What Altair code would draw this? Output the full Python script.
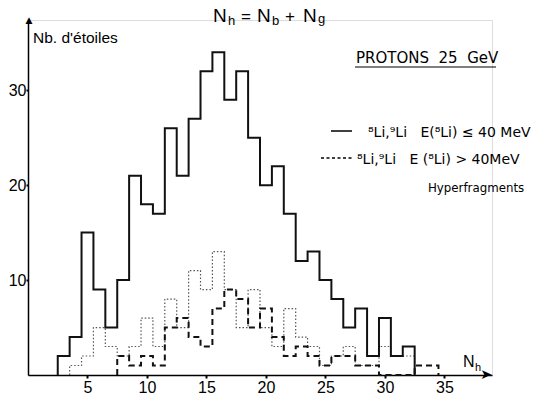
import altair as alt
import pandas as pd

# Star counts per N_h bin (bins are one unit wide, centred on integers)
solid_first = 3
solid_counts = [2, 4, 15, 9, 5, 10, 21, 18, 17, 26, 21, 27, 32, 34, 29, 32, 25,
                20, 22, 17, 12, 13, 10, 8, 5, 7, 2, 6, 2, 3]

dashed_first = 8
dashed_counts = [2, 1, 2, 1, 5, 6, 4, 3, 7, 9, 8, 5, 7, 4, 2, 3, 2, 1, 2, 2,
                 1, 1, 0, 0, 0, 1, 1]

dotted_first = 4
dotted_counts = [1, 2, 5, 3, 2, 3, 6, 3, 8, 5, 11, 9, 13, 9, 5, 9, 5, 3, 7, 4,
                 3, 1, 2, 3, 1, 1, 3, 2, 2]

x_ticks = [5, 10, 15, 20, 25, 30, 35]
y_ticks = [10, 20, 30]

FONT = "Liberation Sans"
FONT2 = "DejaVu Sans"
NB = "\u00a0"
W, H = 464, 355
LEFT, TOP = 28, 20


def step_outline(first_center, counts):
    """Histogram outline as points for a step-after line, closed to 0 at both ends."""
    left = first_center - 0.5
    xs = [left] + [left + i for i in range(len(counts))] + [left + len(counts)]
    ys = [0] + list(counts) + [0]
    return pd.DataFrame({"x": xs, "y": ys, "i": range(len(xs))})


x_scale = alt.Scale(domain=[0, 39], nice=False, zero=False)
y_scale = alt.Scale(domain=[0, 37.4], nice=False)

x_axis = alt.Axis(values=x_ticks, title=None, grid=False, domainColor="black",
                  domainWidth=1.5, tickColor="black", tickWidth=2, tickSize=3,
                  labelFont=FONT, labelFontSize=16, labelColor="black",
                  labelPadding=1, labelFlush=False)
y_axis = alt.Axis(values=y_ticks, title=None, grid=False, domainColor="black",
                  domainWidth=1.5, tickColor="black", tickWidth=2, tickSize=2,
                  labelFont=FONT, labelFontSize=16, labelColor="black",
                  labelPadding=0, labelFlush=False)


def hist_line(df, **style):
    return alt.Chart(df).mark_line(interpolate="step-after", **style).encode(
        x=alt.X("x:Q", scale=x_scale, axis=x_axis),
        y=alt.Y("y:Q", scale=y_scale, axis=y_axis),
        order="i:Q",
    )


dotted = hist_line(step_outline(dotted_first, dotted_counts),
                   color="#555555", strokeWidth=1.2, strokeDash=[1.5, 2])
dashed = hist_line(step_outline(dashed_first, dashed_counts),
                   color="#111111", strokeWidth=2, strokeDash=[6, 4])
solid = hist_line(step_outline(solid_first, solid_counts),
                  color="#111111", strokeWidth=2)

one = alt.Data(values=[{}])


def label(text, x, y, size, align="left", font=FONT, baseline="alphabetic"):
    return alt.Chart(one).mark_text(
        text=text, font=font, fontSize=size, align=align, baseline=baseline,
        color="black",
    ).encode(x=alt.value(x - LEFT), y=alt.value(y - TOP))


def rule(x1, x2, y1, y2, width=1.5, dash=None):
    kw = {"strokeDash": dash} if dash else {}
    return alt.Chart(one).mark_rule(color="black", strokeWidth=width, **kw).encode(
        x=alt.value(x1 - LEFT), x2=alt.value(x2 - LEFT),
        y=alt.value(y1 - TOP), y2=alt.value(y2 - TOP),
    )


decor = [
    # axis arrowheads
    label("➤", 492, 375, 14, align="right", font=FONT2, baseline="middle"),
    label("▲", 29, 16, 9, align="center", font=FONT2, baseline="top"),
    # axis titles
    label("Nb. d'étoiles", 33, 43, 15.5),
    label("N", 463, 367, 16),
    label("h", 475, 371, 11),
    # title N_h = N_b + N_g
    label("N", 213, 22, 19),
    label("h", 228, 25, 13),
    label("=", 246, 22, 17, align="center"),
    label("N", 257, 22, 19),
    label("b", 272, 25, 13),
    label("+", 290, 22, 17, align="center"),
    label("N", 303, 22, 19),
    label("g", 318, 23, 13),
    # legend block
    label(f"PROTONS{NB}{NB}25{NB}{NB}GeV", 356, 63, 15, font=FONT2),
    rule(355, 496, 67, 67, width=1.2),
    rule(331, 352, 131, 131, width=1.5),
    label(f"⁸Li,⁹Li{NB}{NB}{NB}E(⁸Li){NB}≤{NB}40{NB}MeV", 368, 137, 14, font=FONT2),
    rule(321, 352, 158, 158, width=1.5, dash=[3, 2.5]),
    label(f"⁸Li,⁹Li{NB}{NB}{NB}E{NB}(⁸Li){NB}>{NB}40MeV", 357, 164, 14, font=FONT2),
    label("Hyperfragments", 428, 192, 11.8, font=FONT2),
]

chart = alt.layer(dotted, dashed, solid, *decor).properties(
    width=W, height=H, autosize="none",
    padding={"left": LEFT, "top": TOP, "right": 537 - LEFT - W, "bottom": 399 - TOP - H},
).configure_view(stroke=None).configure(background="white")

chart.save("out.html", embed_options={"renderer": "svg", "actions": False})
